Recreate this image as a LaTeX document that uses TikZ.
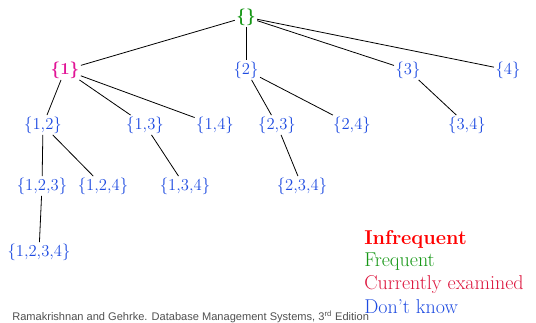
\documentclass[tikz,border=0pt]{standalone}
\usepackage{fontspec}
\usepackage{xcolor}
\usepackage{tikz}
\newfontfamily\footfont{Liberation Sans}
\definecolor{SetBlue}{RGB}{30,75,225}
\definecolor{SetGreen}{RGB}{20,150,20}
\definecolor{SetMagenta}{RGB}{225,20,150}
\definecolor{SetRed}{RGB}{255,0,0}
\definecolor{SetCrimson}{RGB}{220,20,60}
\definecolor{FootGray}{RGB}{80,80,80}

\begin{document}
\begin{tikzpicture}[
          x=0.75pt, y=-0.75pt,
          set/.style={inner sep=1pt, font=\fontsize{12.5}{15}\selectfont, text=SetBlue},
          edge/.style={draw=black, line width=0.6pt},
          legend/.style={anchor=west, inner sep=0pt, font=\fontsize{15}{18}\selectfont}
        ]
        \useasboundingbox (0,0) rectangle (536,322);

        % level 0 and 1
        \node[set, text=SetGreen, font=\fontsize{12.5}{15}\selectfont\bfseries]   (e)   at (246, 17)  {\{\}};
        \node[set, text=SetMagenta, font=\fontsize{12.5}{15}\selectfont\bfseries] (s1)  at (65, 70)   {\{1\}};
        \node[set] (s2)  at (246, 70)  {\{2\}};
        \node[set] (s3)  at (408, 70)  {\{3\}};
        \node[set] (s4)  at (508, 70)  {\{4\}};

        % level 2
        \node[set] (s12) at (43, 125)  {\{1,2\}};
        \node[set] (s13) at (145, 125) {\{1,3\}};
        \node[set] (s14) at (215, 125) {\{1,4\}};
        \node[set] (s23) at (277, 125) {\{2,3\}};
        \node[set] (s24) at (352, 125) {\{2,4\}};
        \node[set] (s34) at (467, 125) {\{3,4\}};

        % level 3 and 4
        \node[set] (s123)  at (42, 186)  {\{1,2,3\}};
        \node[set] (s124)  at (103, 186) {\{1,2,4\}};
        \node[set] (s134)  at (185, 186) {\{1,3,4\}};
        \node[set] (s234)  at (302, 186) {\{2,3,4\}};
        \node[set] (s1234) at (39, 252)  {\{1,2,3,4\}};

        \draw[edge] (e)   -- (s1);
        \draw[edge] (e)   -- (s2);
        \draw[edge] (e)   -- (s3);
        \draw[edge] (e)   -- (s4);
        \draw[edge] (s1)  -- (s12);
        \draw[edge] (s1)  -- (s13);
        \draw[edge] (s1)  -- (s14);
        \draw[edge] (s2)  -- (s23);
        \draw[edge] (s2)  -- (s24);
        \draw[edge] (s3)  -- (s34);
        \draw[edge] (s12) -- (s123);
        \draw[edge] (s12) -- (s124);
        \draw[edge] (s13) -- (s134);
        \draw[edge] (s23) -- (s234);
        \draw[edge] (s123) -- (s1234);

        % legend
        \node[legend, text=SetRed, font=\fontsize{15}{18}\selectfont\bfseries] (infreq) at (364, 239) {Infrequent};
        \node[legend, text=SetGreen]   (freq) at (364, 262) {Frequent};
        \node[legend, text=SetCrimson] (curr) at (364, 285) {Currently examined};
        \node[legend, text=SetBlue]    (dunno) at (364, 307) {Don't know};

        \node[anchor=base west, inner sep=0pt, text=FootGray, font=\footfont\fontsize{8.3}{10}\selectfont]
              (foot) at (12, 320)
              {Ramakrishnan and Gehrke. Database Management Systems, 3\textsuperscript{rd} Edition};
      \end{tikzpicture}
\end{document}
